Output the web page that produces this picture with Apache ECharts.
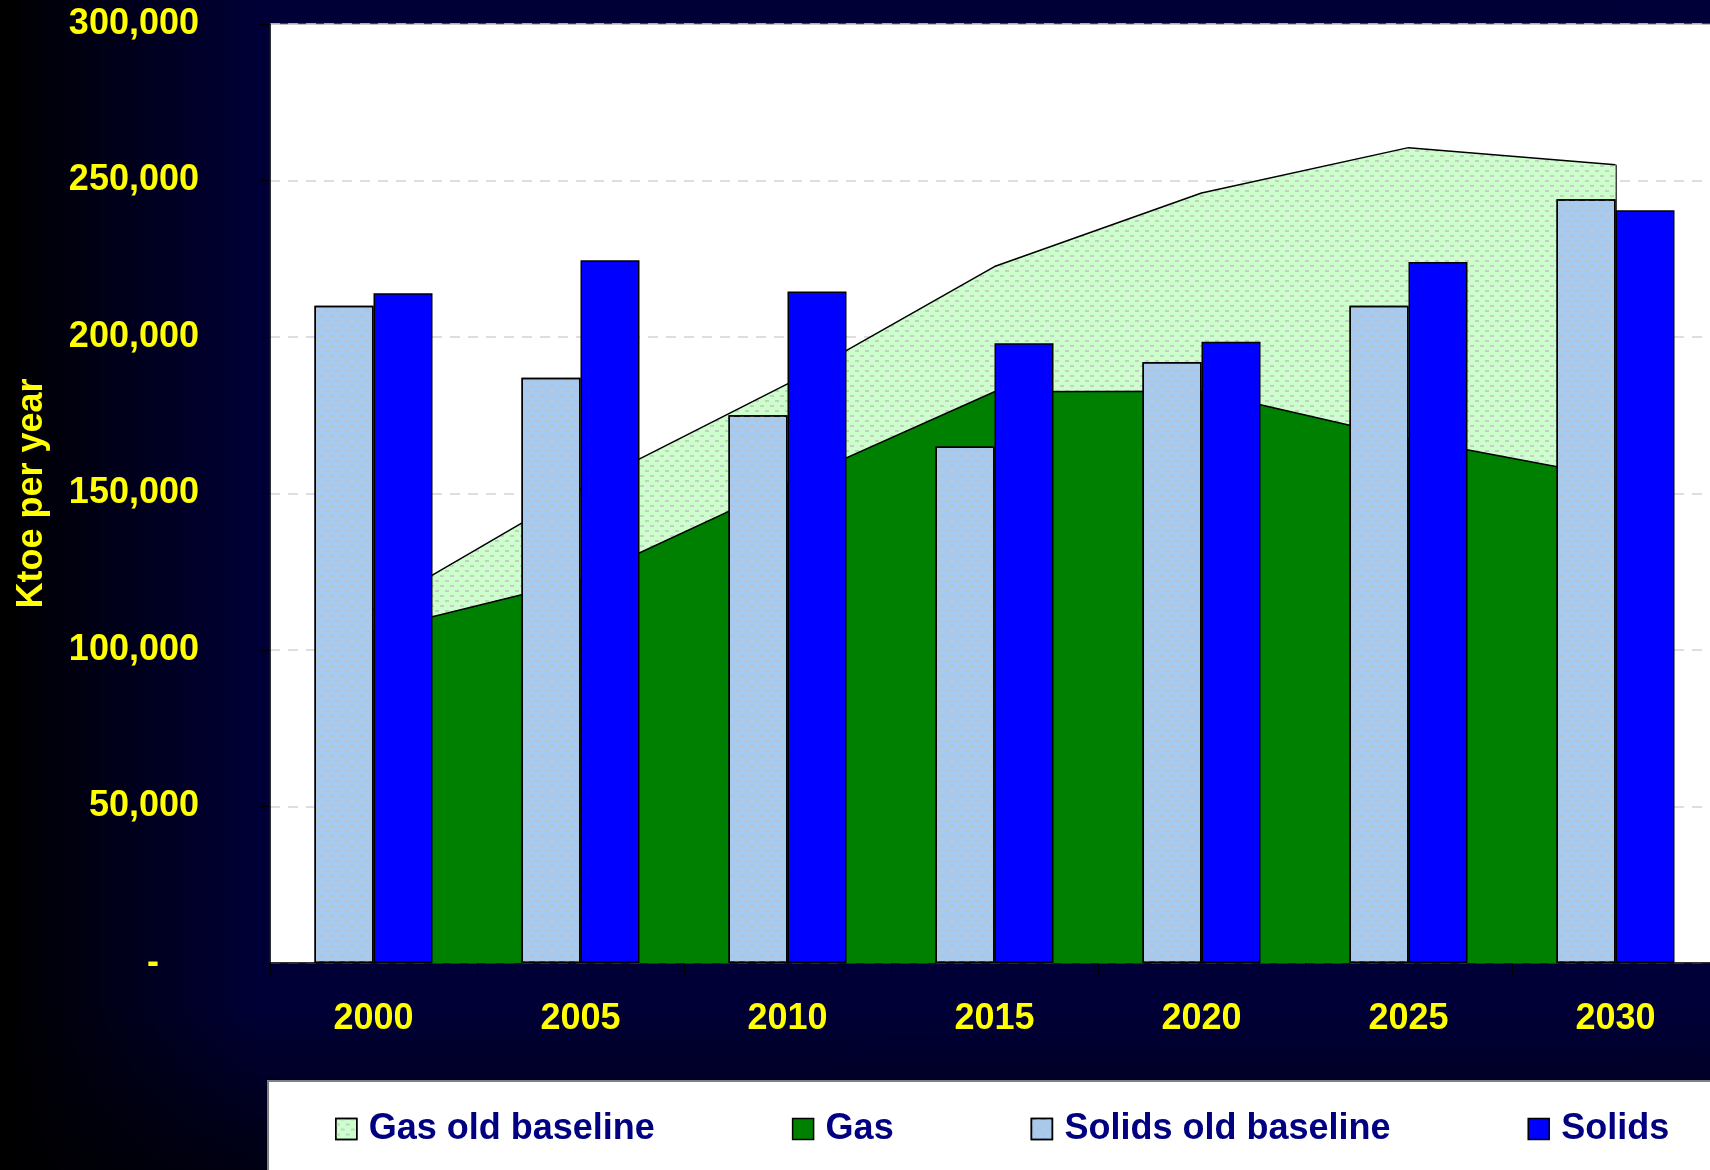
<!DOCTYPE html>
<html>
<head>
<meta charset="utf-8">
<title>Gas and solids consumption</title>
<script src="https://cdn.jsdelivr.net/npm/echarts@6/dist/echarts.min.js"></script>
<style>
  html, body { margin: 0; padding: 0; }
  body {
    width: 1710px; height: 1170px; overflow: hidden;
    background:
      linear-gradient(to bottom, rgba(0,0,0,0) 0%, rgba(0,0,0,0) 86%, rgba(0,0,0,0.65) 100%),
      linear-gradient(to right, #000000 0%, #00001a 7%, #000036 15%, #000038 100%);
  }
  /* the plot area runs a few pixels past the right edge of the page */
  #chart { width: 1720px; height: 1170px; }
</style>
</head>
<body>
<div id="chart"></div>
<script>
// Categories (years)
const years = ['2000', '2005', '2010', '2015', '2020', '2025', '2030'];

// Ktoe per year
const gasOldBaseline = [113000, 151500, 185000, 222500, 246000, 260500, 255000];
const gas = [106000, 122300, 153000, 182500, 182700, 167500, 155000];
const solidsOldBaseline = [210000, 187000, 175000, 165000, 192000, 210000, 244000];
const solids = [214000, 224500, 214500, 198000, 198500, 224000, 240500];

// Value axis range
const yMin = 0;
const yMax = 300000;
const yStep = 50000;

const FONT = '"Liberation Sans", Arial, sans-serif';
const YELLOW = '#ffff00';

// Dotted-dash fill used by the "old baseline" series
function dashDecal() {
  return {
    symbol: 'rect',
    symbolSize: 1,
    color: 'rgba(192,192,192,0.75)',
    dashArrayX: [[4, 6], [0, 5, 4, 1]],
    dashArrayY: [2, 3],
    rotation: 0
  };
}

const chart = echarts.init(document.getElementById('chart'), null, { renderer: 'canvas' });

const option = {
  backgroundColor: 'transparent',
  animation: false,
  graphic: [{
    type: 'rect',
    left: 267,
    top: 1080,
    z: 0,
    shape: { width: 1460, height: 100 },
    style: { fill: '#ffffff', stroke: '#808080', lineWidth: 2 }
  }],
  grid: {
    left: 270,
    top: 24,
    right: 1,
    bottom: 207,
    show: true,
    backgroundColor: '#ffffff',
    borderColor: '#808080',
    borderWidth: 1
  },
  legend: {
    left: 330,
    top: 1106,
    icon: 'rect',
    itemWidth: 21,
    itemHeight: 21,
    itemGap: 137,
    z: 5,
    itemStyle: { borderColor: '#000000', borderWidth: 1.5 },
    textStyle: {
      color: '#000080',
      fontFamily: FONT,
      fontWeight: 'bold',
      fontSize: 36,
      lineHeight: 36,
      padding: [0, 0, 0, 7]
    },
    data: ['Gas old baseline', 'Gas', 'Solids old baseline', 'Solids']
  },
  xAxis: {
    type: 'category',
    data: years,
    boundaryGap: true,
    axisLine: { show: true, lineStyle: { color: '#000000', width: 1.5 } },
    axisTick: { show: true, alignWithLabel: false, length: 12, lineStyle: { color: '#000000' } },
    axisLabel: {
      color: YELLOW,
      fontFamily: FONT,
      fontWeight: 'bold',
      fontSize: 36,
      margin: 38
    },
    splitLine: { show: false }
  },
  yAxis: {
    type: 'value',
    min: yMin,
    max: yMax,
    interval: yStep,
    name: 'Ktoe per year',
    nameLocation: 'middle',
    nameRotate: 90,
    nameGap: 220,
    nameTextStyle: {
      color: YELLOW,
      fontFamily: FONT,
      fontWeight: 'bold',
      fontSize: 36
    },
    axisLine: { show: true, lineStyle: { color: '#000000', width: 1.5 } },
    axisTick: { show: true, length: 10, lineStyle: { color: '#000000' } },
    axisLabel: {
      color: YELLOW,
      fontFamily: FONT,
      fontWeight: 'bold',
      fontSize: 36,
      margin: 71,
      formatter: function (v) {
        if (v === 0) return '{z|-}';
        return v.toLocaleString('en-US');
      },
      rich: {
        z: {
          color: YELLOW,
          fontFamily: FONT,
          fontWeight: 'bold',
          fontSize: 36,
          padding: [0, 40, 0, 0]
        }
      }
    },
    splitLine: {
      show: true,
      lineStyle: { color: '#d4d4d4', type: [10, 8], width: 1.5 }
    }
  },
  series: [
    {
      name: 'Gas old baseline',
      type: 'line',
      z: 1,
      data: gasOldBaseline,
      showSymbol: false,
      symbol: 'none',
      lineStyle: { color: '#000000', width: 1.5 },
      itemStyle: { color: '#ccffcc', borderColor: '#000000', borderWidth: 1.5, decal: dashDecal() },
      areaStyle: { color: '#ccffcc', opacity: 1 },
      markLine: {
        silent: true,
        z: 1,
        symbol: 'none',
        label: { show: false },
        lineStyle: { color: '#000000', width: 1.5, type: 'solid' },
        data: [[
          { xAxis: years[years.length - 1], yAxis: 0 },
          { xAxis: years[years.length - 1], yAxis: gasOldBaseline[gasOldBaseline.length - 1] }
        ]]
      }
    },
    {
      name: 'Gas',
      type: 'line',
      z: 1,
      data: gas,
      showSymbol: false,
      symbol: 'none',
      lineStyle: { color: '#000000', width: 1.5 },
      itemStyle: { color: '#008000', borderColor: '#000000', borderWidth: 1.5 },
      areaStyle: { color: '#008000', opacity: 1 }
    },
    {
      name: 'Solids old baseline',
      type: 'bar',
      z: 3,
      data: solidsOldBaseline,
      barWidth: 59,
      barGap: '0%',
      itemStyle: { color: '#a6caf0', borderColor: '#000000', borderWidth: 1.5, decal: dashDecal() }
    },
    {
      name: 'Solids',
      type: 'bar',
      z: 3,
      data: solids,
      barWidth: 59,
      barGap: '0%',
      itemStyle: { color: '#0000ff', borderColor: '#000000', borderWidth: 1.5 }
    }
  ]
};

chart.setOption(option);
</script>
</body>
</html>
